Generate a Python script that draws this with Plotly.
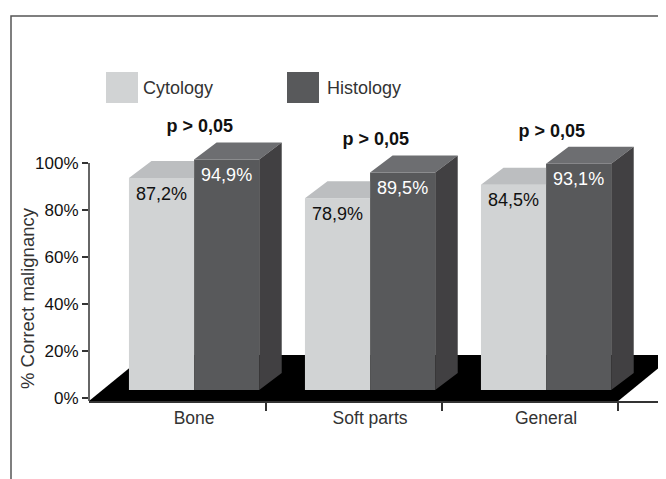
import plotly.graph_objects as go

# ---------------- data ----------------
categories = ["Bone", "Soft parts", "General"]
cytology = [87.2, 78.9, 84.5]
histology = [94.9, 89.5, 93.1]
p_labels = ["p > 0,05", "p > 0,05", "p > 0,05"]
series_names = ["Cytology", "Histology"]
y_tick_values = [0, 20, 40, 60, 80, 100]
y_tick_labels = ["0%", "20%", "40%", "60%", "80%", "100%"]
y_title = "% Correct malignancy"

# ---------------- style / geometry ----------------
W, H = 666, 479
PAGE = 8                        # page body margin of the html page
ML, MR, MT, MB = 89 - PAGE, 0, 30 - PAGE, 479 - (401 - PAGE)
PW = W - ML - MR
PH = H - MT - MB
PX_PER_CAT = 176.0
X_MIN = -0.597
X_RANGE = [X_MIN, X_MIN + PW / PX_PER_CAT]
Y_RANGE = [-1.277, 156.6]      # visible % axis
Y2_RANGE = [-4.527, 148.15]    # axis the 3-D bars are drawn on
BAR_W = 0.37
DX = 0.128                     # depth offset (x units)
DY = 7.0                       # depth offset (y2 units)
FLOOR_DX = 0.32
FLOOR_BACK = 14.4
TICK_SHIFT = 0.41
LABEL_DROP = 7.0
P_OFFSET = 6.0
P_SHIFT = 0.032

C_CYTO = "#d1d3d4"
C_CYTO_TOP = "#bcbec0"
C_HIST = "#58595b"
C_HIST_TOP = "#6d6e71"
C_HIST_SIDE = "#414042"
AX = "#333333"
FONT = "Liberation Sans, Arial, Helvetica, sans-serif"


def px_x(px):
    return (px - PAGE - ML) / PW


def px_y(py):
    return (H - MB - (py - PAGE)) / PH


def fmt(v):
    return f"{v:.1f}".replace(".", ",") + "%"


xs = list(range(len(categories)))
fig = go.Figure()

# front faces as bars
fig.add_trace(go.Bar(x=xs, y=cytology, base=0, width=BAR_W, offset=-BAR_W,
                     marker=dict(color=C_CYTO, line=dict(width=0)),
                     yaxis="y2", name=series_names[0], hoverinfo="skip"))
fig.add_trace(go.Bar(x=xs, y=histology, base=0, width=BAR_W, offset=0,
                     marker=dict(color=C_HIST, line=dict(width=0)),
                     yaxis="y2", name=series_names[1], hoverinfo="skip"))


def poly_trace(xx, yy, color):
    return go.Scatter(x=xx, y=yy, mode="lines", fill="toself", fillcolor=color,
                      line=dict(width=0, color=color), yaxis="y2",
                      hoverinfo="skip", showlegend=False)


cx, cy, hx, hy, sx, sy = [], [], [], [], [], []
for i, (c, h) in enumerate(zip(cytology, histology)):
    x0, x1, x2 = i - BAR_W, i, i + BAR_W
    cx += [x0, x1, x1, x0 + DX, x0, None]
    cy += [c, c, c + DY, c + DY, c, None]
    hx += [x1, x2, x2 + DX, x1 + DX, x1, None]
    hy += [h, h, h + DY, h + DY, h, None]
    sx += [x2, x2 + DX, x2 + DX, x2, x2, None]
    sy += [0, DY, h + DY, h, 0, None]

fig.add_trace(poly_trace(cx, cy, C_CYTO_TOP))
fig.add_trace(poly_trace(hx, hy, C_HIST_TOP))
fig.add_trace(poly_trace(sx, sy, C_HIST_SIDE))

# value labels
fig.add_trace(go.Scatter(x=[i - BAR_W / 2 for i in xs], y=[v - LABEL_DROP for v in cytology],
                         mode="text", text=[fmt(v) for v in cytology],
                         textposition="middle center", yaxis="y2",
                         textfont=dict(family=FONT, size=18, color="#111111"),
                         hoverinfo="skip", showlegend=False))
fig.add_trace(go.Scatter(x=[i + BAR_W / 2 for i in xs], y=[v - LABEL_DROP for v in histology],
                         mode="text", text=[fmt(v) for v in histology],
                         textposition="middle center", yaxis="y2",
                         textfont=dict(family=FONT, size=18, color="#ffffff"),
                         hoverinfo="skip", showlegend=False))
# p labels
fig.add_trace(go.Scatter(x=[i + P_SHIFT for i in xs],
                         y=[max(c, h) + DY + P_OFFSET for c, h in zip(cytology, histology)],
                         mode="text", text=p_labels, textposition="middle center", yaxis="y2",
                         textfont=dict(family=FONT, size=18, color="#111111", weight="bold"),
                         hoverinfo="skip", showlegend=False, cliponaxis=False))

shapes = []
floor_front = Y2_RANGE[0]
fl_x0 = X_RANGE[0]
fl_x1 = len(categories) - 1 + TICK_SHIFT
shapes.append(dict(type="path", xref="x", yref="y2", layer="below",
                   path=f"M {fl_x0},{floor_front} L {fl_x1},{floor_front} "
                        f"L {fl_x1 + FLOOR_DX},{FLOOR_BACK} L {fl_x0 + FLOOR_DX},{FLOOR_BACK} Z",
                   fillcolor="#000000", line=dict(width=0)))
shapes.append(dict(type="line", xref="paper", yref="y", x0=0, x1=0,
                   y0=Y_RANGE[0], y1=y_tick_values[-1], line=dict(color=AX, width=1.5)))
shapes.append(dict(type="rect", xref="paper", yref="paper",
                   x0=px_x(11), x1=1.3, y0=-0.5, y1=px_y(16),
                   line=dict(color="#555555", width=1.5), fillcolor="rgba(0,0,0,0)"))
shapes.append(dict(type="rect", xref="paper", yref="paper",
                   x0=px_x(106), x1=px_x(138), y0=px_y(103), y1=px_y(72),
                   fillcolor=C_CYTO, line=dict(width=0)))
shapes.append(dict(type="rect", xref="paper", yref="paper",
                   x0=px_x(287), x1=px_x(319), y0=px_y(103), y1=px_y(72),
                   fillcolor=C_HIST, line=dict(width=0)))

annotations = [
    dict(text=series_names[0], xref="paper", yref="paper", x=px_x(141), y=px_y(88),
         xanchor="left", yanchor="middle", showarrow=False,
         font=dict(family=FONT, size=18, color=AX)),
    dict(text=series_names[1], xref="paper", yref="paper", x=px_x(325), y=px_y(88),
         xanchor="left", yanchor="middle", showarrow=False,
         font=dict(family=FONT, size=18, color=AX)),
    dict(text=y_title, xref="paper", yref="paper", x=px_x(27), y=px_y(298),
         xanchor="center", yanchor="middle", textangle=-90, showarrow=False,
         font=dict(family=FONT, size=18.5, color=AX)),
]

fig.update_layout(
    width=W, height=H, margin=dict(l=ML, r=MR, t=MT, b=MB),
    paper_bgcolor="white", plot_bgcolor="white",
    barmode="overlay", showlegend=False,
    shapes=shapes, annotations=annotations,
    xaxis=dict(range=X_RANGE, tickvals=xs, ticktext=categories, ticks="",
               showline=True, linecolor=AX, linewidth=1.5, showgrid=False, zeroline=False,
               tickfont=dict(family=FONT, size=17.5, color=AX),
               minor=dict(tickmode="array", tickvals=[i + TICK_SHIFT for i in xs],
                          ticks="outside", ticklen=8, tickwidth=1.5, tickcolor=AX, showgrid=False)),
    yaxis=dict(range=Y_RANGE, tickmode="array", tickvals=y_tick_values, ticktext=y_tick_labels,
               ticks="outside", ticklen=6, tickwidth=1.5, tickcolor=AX, showline=False,
               showgrid=False, zeroline=False,
               tickfont=dict(family=FONT, size=17, color="#111111")),
    yaxis2=dict(range=Y2_RANGE, overlaying="y", visible=False, showgrid=False, zeroline=False),
)

fig.write_html("out.html")
